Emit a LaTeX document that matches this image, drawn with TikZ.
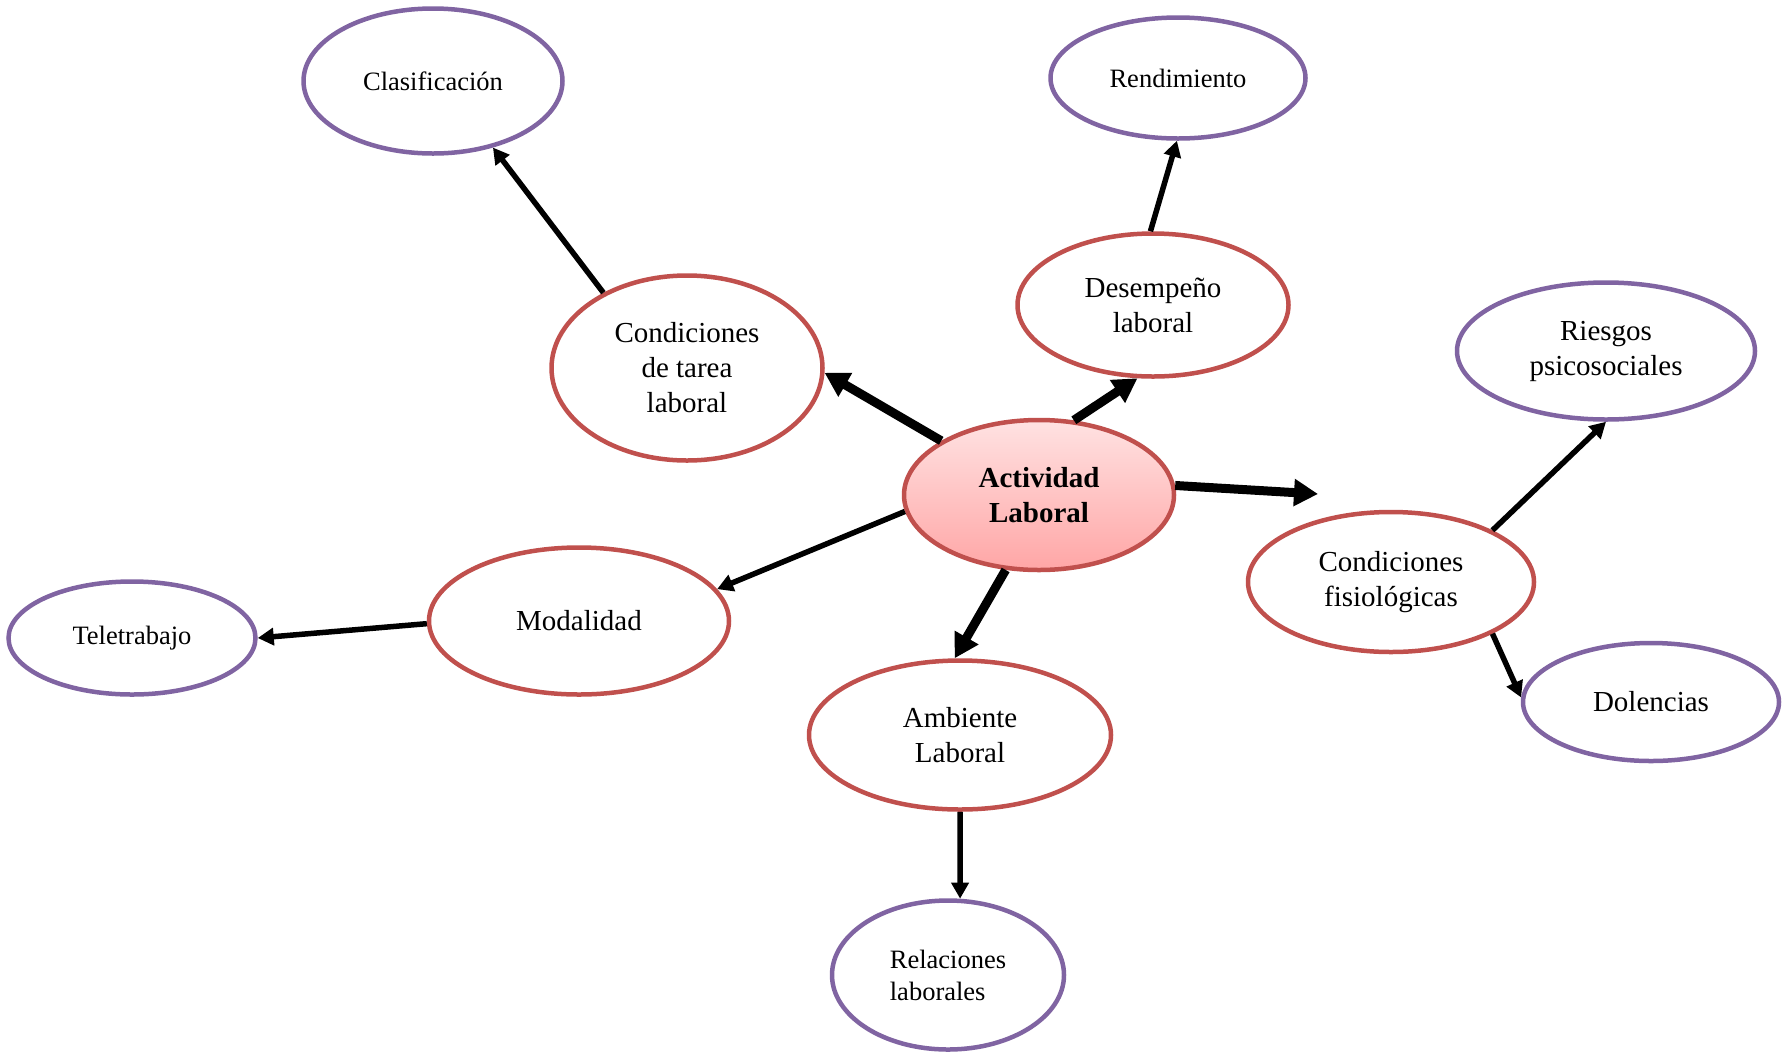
\documentclass[tikz,border=0pt]{standalone}
\usepackage{fontspec}
\setmainfont{Liberation Serif}
\usetikzlibrary{shapes.geometric,arrows.meta}
\definecolor{nodered}{RGB}{192,80,77}
\definecolor{nodepurple}{RGB}{128,100,162}
\definecolor{pinktop}{RGB}{255,226,226}
\definecolor{pinkbottom}{RGB}{255,166,166}

\begin{document}
\begin{tikzpicture}[x=1pt,y=-1pt,
	redstyle/.style={ellipse, draw=nodered, line width=4.5pt, fill=white,
	inner sep=0pt, align=center, font=\fontsize{29}{35}\selectfont},
	purplestyle/.style={ellipse, draw=nodepurple, line width=4.5pt, fill=white,
	inner sep=0pt, align=center, font=\fontsize{26.5}{32}\selectfont},
	mainstyle/.style={ellipse, draw=nodered, line width=4.5pt, top color=pinktop,
	bottom color=pinkbottom, inner sep=0pt, align=center,
	font=\fontsize{29}{35}\selectfont\bfseries},
	bigarrow/.style={-{Triangle[length=24pt,width=26pt]}, line width=9pt},
	smallarrow/.style={-{Triangle[length=16pt,width=17pt]}, line width=5.5pt}
	]
	\useasboundingbox (0,0) rectangle (1783,1053);
	
	\node[mainstyle, minimum width=270pt, minimum height=150pt] (act) at (1039,495) {Actividad\\Laboral};
	\node[redstyle, minimum width=271pt, minimum height=185pt] (tarea) at (687,368) {Condiciones\\de tarea\\laboral};
	\node[redstyle, minimum width=271pt, minimum height=143pt] (des) at (1153,305) {Desempeño\\laboral};
	\node[redstyle, minimum width=286pt, minimum height=140pt] (fis) at (1391,582) {Condiciones\\fisiológicas};
	\node[redstyle, minimum width=300pt, minimum height=147pt] (mod) at (579,621) {Modalidad};
	\node[redstyle, minimum width=302pt, minimum height=149pt] (amb) at (960,735) {Ambiente\\Laboral};
	
	\node[purplestyle, minimum width=259pt, minimum height=145pt] (clas) at (433,81) {Clasificación};
	\node[purplestyle, minimum width=255pt, minimum height=121pt] (ren) at (1178,78) {Rendimiento};
	\node[purplestyle, minimum width=298pt, minimum height=137pt,
	font=\fontsize{29}{35}\selectfont] (ries) at (1606,351) {Riesgos\\psicosociales};
	\node[purplestyle, minimum width=256pt, minimum height=118pt,
	font=\fontsize{29}{35}\selectfont] (dol) at (1651,702) {Dolencias};
	\node[purplestyle, minimum width=247pt, minimum height=113pt] (tele) at (132,638) {Teletrabajo};
	\node[purplestyle, minimum width=232pt, minimum height=149pt, align=left] (rel) at (948,975) {Relaciones\\laborales};
	
	\coordinate (fisend) at (1318,494);
	
	\draw[bigarrow] (act.151) to (tarea.358);
	\draw[bigarrow] (act.65) to (des.258);
	\draw[bigarrow] (act.4) to (fisend);
	\draw[bigarrow] (act.246) to (amb.94);
	\draw[smallarrow] (act.187) to (mod.13);
	\draw[smallarrow] (tarea.138) to (clas.312);
	\draw[smallarrow] (des.92) to (ren.269);
	\draw[smallarrow] (mod.181) to (tele.east);
	\draw[smallarrow] (fis.27) to (ries.270);
	\draw[smallarrow] (fis.333) to (dol.178);
	\draw[smallarrow] (amb.south) to (rel.81);
\end{tikzpicture}
\end{document}
